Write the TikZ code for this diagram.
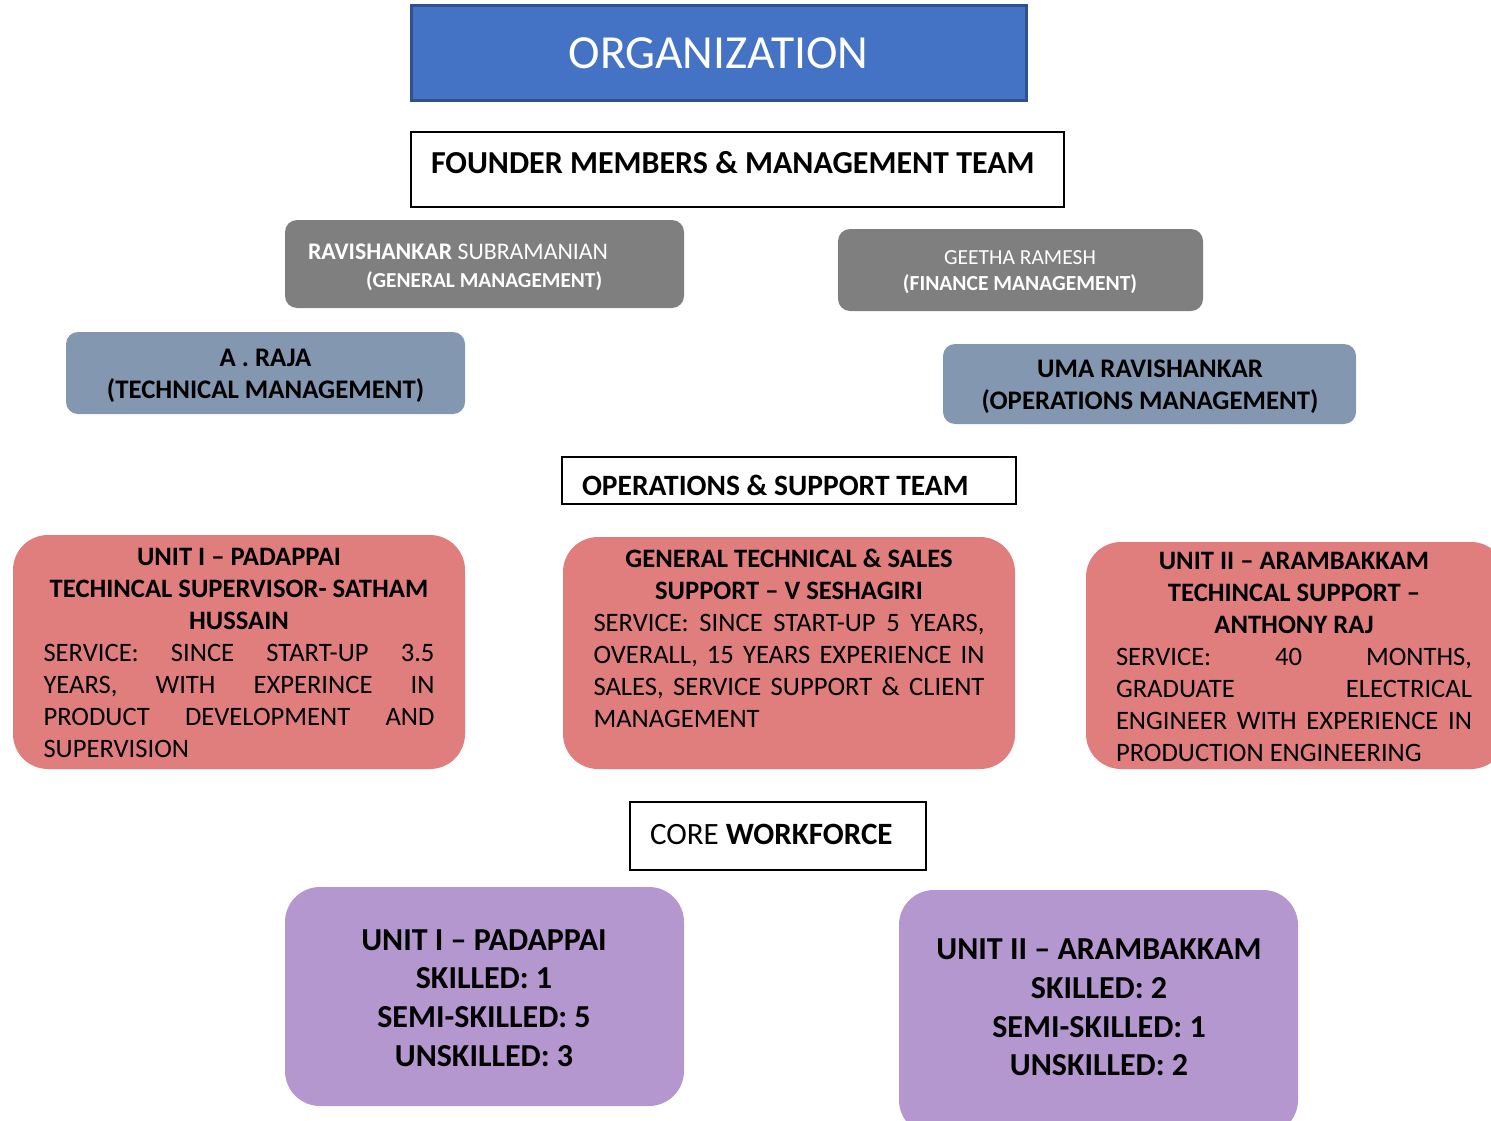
\documentclass[tikz,border=0pt]{standalone}
\usepackage{fontspec}
\setmainfont{Carlito}
\definecolor{orgblue}{HTML}{4472C4}
\definecolor{orgedge}{HTML}{2F528F}
\definecolor{mgray}{HTML}{7F7F7F}
\definecolor{bgray}{HTML}{8497B0}
\definecolor{rosered}{HTML}{E07E7E}
\definecolor{lilac}{HTML}{B497CF}
\newcommand\myfs[2]{\fontsize{#1}{#2}\selectfont}
\newcommand\myjline[2]{\makebox[#1][s]{#2}}
\newcommand\mylline[2]{\makebox[#1][l]{#2}}
\tikzset{
  box/.style={inner sep=0pt, outer sep=0pt, anchor=north west},
  txt/.style={inner sep=0pt, outer sep=0pt, align=center},
  titlebox/.style={box, draw=black, line width=2pt, fill=white},
}
\begin{document}
\begin{tikzpicture}[x=1pt,y=-1pt]
\useasboundingbox (0,0) rectangle (1491,1121);
% title
\node[box, fill=orgblue, draw=orgedge, line width=3pt, minimum width=615pt, minimum height=95pt] (org) at (411,6) {};
\node[txt, text=white, font=\myfs{47.5}{56}] (orgt) at (718.5,53.5) {ORGANIZATION};
% founder
\node[titlebox, minimum width=653pt, minimum height=75pt] (founder) at (411,132) {};
\node[txt, anchor=west, font=\myfs{32}{38}\bfseries] (foundert) at (431,163) {FOUNDER MEMBERS \& MANAGEMENT TEAM};
% gray boxes
\node[box, fill=mgray, rounded corners=12pt, minimum width=399pt, minimum height=88pt] (ravi) at (285,220) {};
\node[txt, anchor=west, align=left, text=white, font=\myfs{21.3}{28}] (ravit) at (308,267) {{\fontsize{23.8}{28}\selectfont\textbf{RAVISHANKAR} SUBRAMANIAN}\\\hspace*{58pt}\textbf{(GENERAL MANAGEMENT)}};
\node[box, fill=mgray, rounded corners=12pt, minimum width=365pt, minimum height=82pt] (geetha) at (838,229) {};
\node[txt, text=white, font=\myfs{21.5}{26}] (geethat) at (1020,272) {GEETHA RAMESH\\\textbf{(FINANCE MANAGEMENT)}};
% blue-gray boxes
\node[box, fill=bgray, rounded corners=12pt, minimum width=399pt, minimum height=82pt] (raja) at (66,332) {};
\node[txt, font=\myfs{26.8}{32}\bfseries] (rajat) at (265.5,376) {A . RAJA\\(TECHNICAL MANAGEMENT)};
\node[box, fill=bgray, rounded corners=12pt, minimum width=413pt, minimum height=80pt] (uma) at (943,344) {};
\node[txt, font=\myfs{26.8}{32}\bfseries] (umat) at (1150,387) {UMA RAVISHANKAR\\(OPERATIONS MANAGEMENT)};
% operations
\node[titlebox, minimum width=454pt, minimum height=47pt] (ops) at (562,457) {};
\node[txt, anchor=west, font=\myfs{29.5}{34}\bfseries] (opst) at (582,485.5) {OPERATIONS \& SUPPORT TEAM};
% red boxes
\node[box, fill=rosered, rounded corners=35pt, minimum width=452pt, minimum height=234pt] (u1) at (13,535) {};
\node[txt, font=\myfs{26.6}{32}] (u1t) at (239,653) {\textbf{UNIT I – PADAPPAI}\\\textbf{TECHINCAL SUPERVISOR- SATHAM}\\\textbf{HUSSAIN}\\
\myjline{391pt}{SERVICE: SINCE START-UP 3.5}\\\myjline{391pt}{YEARS, WITH EXPERINCE IN}\\\myjline{391pt}{PRODUCT DEVELOPMENT AND}\\\mylline{391pt}{SUPERVISION}};
\node[box, fill=rosered, rounded corners=35pt, minimum width=452pt, minimum height=232pt] (gen) at (563,537) {};
\node[txt, font=\myfs{26.6}{32}] (gent) at (789,638) {\textbf{GENERAL TECHNICAL \& SALES}\\\textbf{SUPPORT – V SESHAGIRI}\\
\myjline{391pt}{SERVICE: SINCE START-UP 5 YEARS,}\\\myjline{391pt}{OVERALL, 15 YEARS EXPERIENCE IN}\\\myjline{391pt}{SALES, SERVICE SUPPORT \& CLIENT}\\\mylline{391pt}{MANAGEMENT}};
\node[box, fill=rosered, rounded corners=35pt, minimum width=420pt, minimum height=227pt] (u2) at (1086,542) {};
\node[txt, font=\myfs{26.6}{32}] (u2t) at (1294,657) {\textbf{UNIT II – ARAMBAKKAM}\\\textbf{TECHINCAL SUPPORT –}\\\textbf{ANTHONY RAJ}\\
\myjline{356pt}{SERVICE: 40 MONTHS,}\\\myjline{356pt}{GRADUATE ELECTRICAL}\\\myjline{356pt}{ENGINEER WITH EXPERIENCE IN}\\\mylline{356pt}{PRODUCTION ENGINEERING}};
% core workforce
\node[titlebox, minimum width=296pt, minimum height=68pt] (core) at (630,802) {};
\node[txt, anchor=west, font=\myfs{31}{36}] (coret) at (650,834) {CORE \textbf{WORKFORCE}};
% purple boxes
\node[box, fill=lilac, rounded corners=35pt, minimum width=399pt, minimum height=219pt] (p1) at (285,887) {};
\node[txt, font=\myfs{32}{38.7}\bfseries] (p1t) at (484,998) {UNIT I – PADAPPAI\\SKILLED: 1\\SEMI-SKILLED: 5\\UNSKILLED: 3};
\node[box, fill=lilac, rounded corners=35pt, minimum width=399pt, minimum height=245pt] (p2) at (899,890) {};
\node[txt, font=\myfs{32}{38.7}\bfseries] (p2t) at (1099,1007.5) {UNIT II – ARAMBAKKAM\\SKILLED: 2\\SEMI-SKILLED: 1\\UNSKILLED: 2};
\end{tikzpicture}
\end{document}
